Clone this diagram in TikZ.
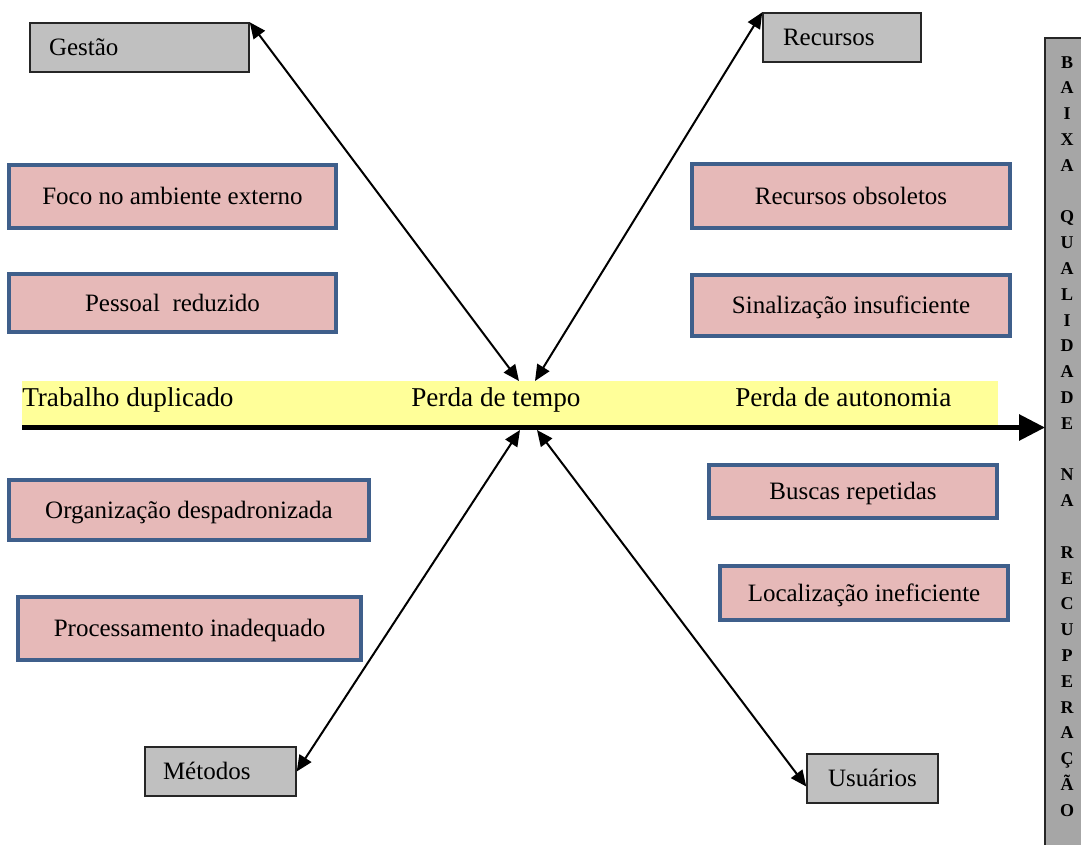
\documentclass[tikz,border=0pt]{standalone}
\usepackage{fontspec}
\setmainfont{Liberation Serif}
\usetikzlibrary{arrows.meta,calc}
\definecolor{pinkfill}{HTML}{E6B9B8}
\definecolor{blueedge}{HTML}{3F5F8B}
\definecolor{grayfill}{HTML}{C0C0C0}
\definecolor{sidefill}{HTML}{A6A6A6}
\definecolor{bandfill}{HTML}{FFFF99}
\begin{document}
\begin{tikzpicture}[x=0.75pt,y=-0.75pt,
  causebox/.style={draw=blueedge, line width=3pt, fill=pinkfill, inner sep=0pt,
    align=center, text height=12.4pt, text depth=0pt,
    font=\fontsize{18.75}{22}\selectfont},
  catbox/.style={draw=black!85, line width=1.1pt, fill=grayfill, inner ysep=0pt,
    minimum height=36.75pt, align=left, text height=12.4pt, text depth=0pt,
    font=\fontsize{18.75}{22}\selectfont},
  link/.style={line width=1.5pt,
    {Triangle[length=12pt,width=10.5pt]}-{Triangle[length=12pt,width=10.5pt]}},
  bandtext/.style={font=\fontsize{20.4}{24}\selectfont, inner sep=0pt, anchor=base west},
]
\useasboundingbox (0,0) rectangle (1081,845);

% side box
\node (side) [fill=sidefill, anchor=north west, inner sep=0pt,
  minimum width=27pt, minimum height=605.25pt] at (1045,38) {};
\draw[line width=1.1pt, black!85] (side.south west) -- (side.north west) -- (side.north east);
\node (sidetext) [anchor=north, inner sep=0pt, align=center,
  font=\fontsize{13.5}{19.35}\bfseries\selectfont] at (1067,56)
  {B\\A\\I\\X\\A\\~\\Q\\U\\A\\L\\I\\D\\A\\D\\E\\~\\N\\A\\~\\R\\E\\C\\U\\P\\E\\R\\A\\Ç\\Ã\\O};

% band
\node (band) [fill=bandfill, inner sep=0pt, minimum width=732pt, minimum height=33pt] at (510,403) {};
\node (t1) [bandtext] at (22,406) {Trabalho duplicado};
\node (t2) [bandtext] at (411,406) {Perda de tempo};
\node (t3) [bandtext] at (735,406) {Perda de autonomia};

% spine
\coordinate (spinestart) at (22,427.5);
\coordinate (spineend) at (1045,427.5);
\draw[line width=3.75pt, -{Triangle[length=19.5pt,width=19pt]}] (spinestart) -- (spineend);

% category boxes
\node (gestao) [catbox, text width=135.75pt, inner xsep=14.25pt] at (139.5,47.5) {Gestão};
\node (recursos) [catbox, text width=88.5pt, inner xsep=15pt] at (842,37.5) {Recursos};
\node (metodos) [catbox, text width=86.25pt, inner xsep=13.5pt] at (220.5,771.5) {Métodos};
\node (usuarios) [catbox, text width=66.75pt, inner xsep=15.75pt] at (872.5,778.5) {Usuários};

% cause boxes
\node (foco) [causebox, minimum width=245.25pt, minimum height=47.25pt] at (172.5,196.5) {Foco no ambiente externo};
\node (pessoal) [causebox, minimum width=245.25pt, minimum height=43.5pt] at (172.5,303) {Pessoal\ \ reduzido};
\node (organiz) [causebox, minimum width=270pt, minimum height=45pt] at (189,510) {Organização despadronizada};
\node (process) [causebox, minimum width=257.25pt, minimum height=47.25pt] at (189.5,628.5) {Processamento inadequado};
\node (obsol) [causebox, minimum width=238.5pt, minimum height=48pt] at (851,196) {Recursos obsoletos};
\node (sinal) [causebox, minimum width=238.5pt, minimum height=45.75pt] at (851,305.5) {Sinalização insuficiente};
\node (buscas) [causebox, minimum width=216pt, minimum height=39.75pt] at (853,491.5) {Buscas repetidas};
\node (local) [causebox, minimum width=216pt, minimum height=40.5pt] at (864,593) {Localização ineficiente};

% arrow ends at the spine
\coordinate (g1) at (519,381);
\coordinate (r1) at (535,381);
\coordinate (m1) at (520,430);
\coordinate (u1) at (537,430);

\draw[link] (gestao.north east) -- (g1);
\draw[link] (recursos.north west) -- (r1);
\draw[link] (metodos.east) -- (m1);
\draw[link] ($(usuarios.west)+(0,8)$) -- (u1);
\end{tikzpicture}
\end{document}
